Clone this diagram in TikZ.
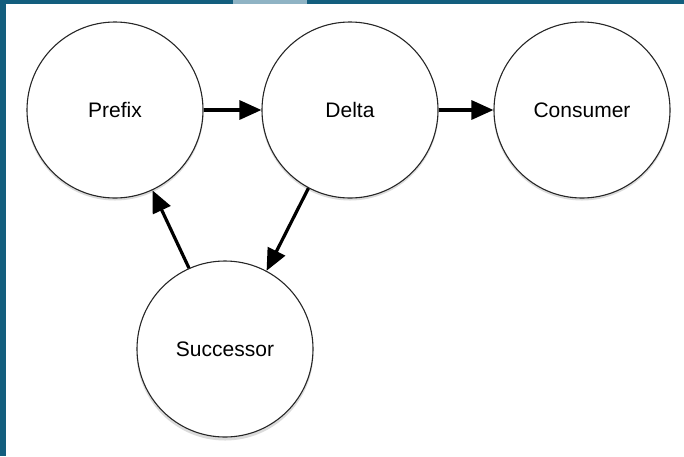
\documentclass[tikz,border=0pt]{standalone}
\usepackage{fontspec}
\setmainfont{Liberation Sans}
\usetikzlibrary{arrows.meta}
\definecolor{framebl}{HTML}{135E7E}
\definecolor{framelt}{HTML}{8FB3C4}
\tikzset{
  circ/.style={circle, draw=black!85, line width=1.1pt, fill=white, minimum size=176pt, inner sep=0pt, font=\fontsize{21}{24}\selectfont},
  shad/.style={circle, fill=black!40, opacity=0.35, minimum size=177pt, inner sep=0pt},
  conn/.style={line width=3.2pt, -{Triangle[length=22pt,width=19pt]}}
}
\begin{document}
\begin{tikzpicture}[x=1pt,y=-1pt]
\useasboundingbox (0,0) rectangle (684,456);
\fill[white] (0,0) rectangle (684,456);
\fill[framebl] (0,0) rectangle (684,3.5);
\fill[framelt] (233,0) rectangle (307,3.5);
\fill[framebl] (0,0) rectangle (6,456);
% shadows
\node[shad] at (115,112) {};
\node[shad] at (350,112) {};
\node[shad] at (582,112) {};
\node[shad] at (225,352) {};
% circles
\node[circ] (prefix) at (115,110) {Prefix};
\node[circ] (delta) at (350,110) {Delta};
\node[circ] (consumer) at (582,110) {Consumer};
\node[circ] (succ) at (225,349) {Successor};
% connectors
\draw[conn] (prefix) -- (delta);
\draw[conn] (delta) -- (consumer);
\draw[conn] (delta.-118) -- (succ.62);
\draw[conn] (succ.114) -- (prefix.-65);
\end{tikzpicture}
\end{document}
